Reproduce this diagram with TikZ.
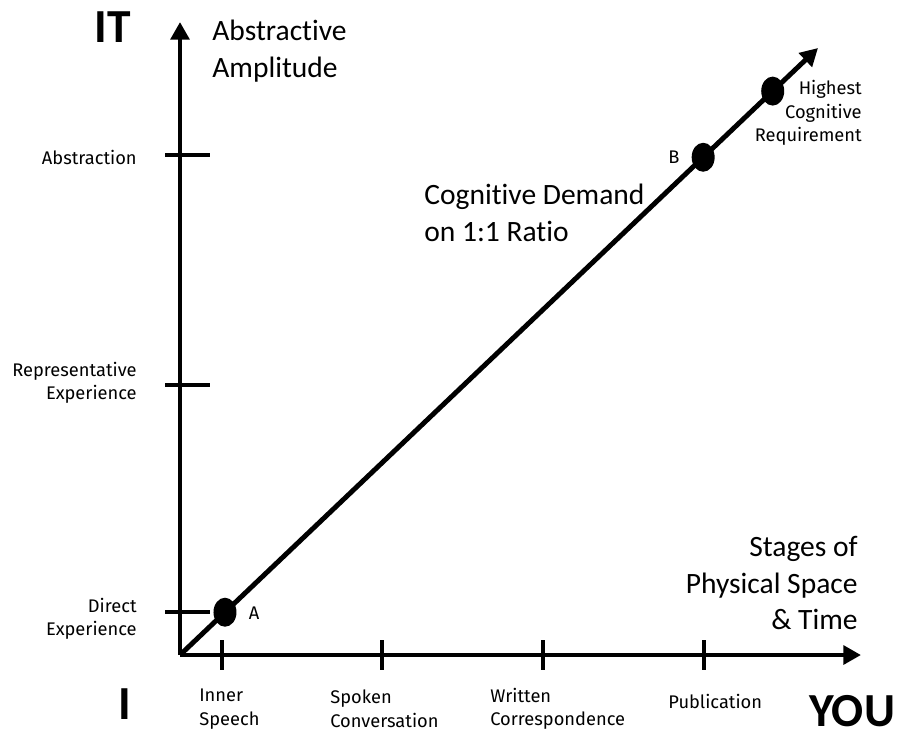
\documentclass[tikz,border=0pt]{standalone}
\usepackage{fontspec}
\setmainfont{Carlito}[Ligatures=NoCommon]
\newfontfamily\labelfont{Fira Sans}[Ligatures=NoCommon]
\usetikzlibrary{arrows.meta,shapes.geometric}

\tikzset{
  axisline/.style={black, line width=2.8pt, -{Triangle[length=10pt,width=10.5pt]}},
  tickline/.style={black, line width=2.3pt},
  bigtext/.style={font=\fontsize{16.8}{21}\selectfont, inner sep=0pt},
  smalltext/.style={font=\labelfont\fontsize{10.4}{13.4}\selectfont, inner sep=0pt},
  endlabel/.style={font=\bfseries\fontsize{27}{30}\selectfont, inner sep=0pt},
  pointdot/.style={ellipse, fill=black, minimum width=0.46cm, minimum height=0.58cm, inner sep=0pt}
}

\begin{document}
\begin{tikzpicture}[x=0.02cm, y=-0.02cm]
            \useasboundingbox (0,0) rectangle (901,735);
            \coordinate (origin) at (180,655);
            \coordinate (ytip) at (180,22);
            \coordinate (xtip) at (861,655);
            \coordinate (ratiotip) at (818,48);
            % axes
            \draw [axisline] (origin) -- (ytip);
            \draw [axisline] (origin) -- (xtip);
            % ticks
            \foreach \y in {155, 385, 612}
            \draw [tickline] (165,\y) -- (210,\y);
            \foreach \x in {222, 382, 543, 704}
            \draw [tickline] (\x,640) -- (\x,670);
            % 1:1 line and its points
            \draw [axisline] (origin) -- (ratiotip);
            \path (origin) -- (ratiotip)
                node[pointdot, pos=0.0705] (ptA) {}
                node[pointdot, pos=0.820] (ptB) {}
                node[pointdot, pos=0.929] (ptTop) {};
            % corner labels
            \node[endlabel] (it) at (113,27) {IT};
            \node[endlabel] (me) at (125,704) {I};
            \node[endlabel] (you) at (852,711) {YOU};
            % big labels
            \node[bigtext, anchor=west, align=left] (amplitude) at (212,51) {Abstractive\\Amplitude};
            \node[bigtext, anchor=west, align=left] (demand) at (424,213) {Cognitive Demand\\on 1:1 Ratio};
            \node[bigtext, anchor=east, align=right] (stages) at (858,583) {Stages of\\Physical Space\\\& Time};
            % y axis labels
            \node[smalltext, anchor=east] (abstraction) at (137,157) {Abstraction};
            \node[smalltext, anchor=east, align=right] (representative) at (137,383) {Representative\\Experience};
            \node[smalltext, anchor=east, align=right] (direct) at (137,619) {Direct\\Experience};
            % x axis labels
            \node[smalltext, anchor=west, align=left] (inner) at (199,709) {Inner\\Speech};
            \node[smalltext, anchor=west, align=left] (spoken) at (330,709) {Spoken\\Conversation};
            \node[smalltext, anchor=west, align=left] (written) at (490,709) {Written\\Correspondence};
            \node[smalltext, anchor=west] (publication) at (668,701) {Publication};
            % point labels
            \node[smalltext] (labA) at (254,613) {A};
            \node[smalltext] (labB) at (674,157) {B};
            \node[smalltext, anchor=east, align=right] (highest) at (862,113) {Highest\\Cognitive\\Requirement};
\end{tikzpicture}
\end{document}
